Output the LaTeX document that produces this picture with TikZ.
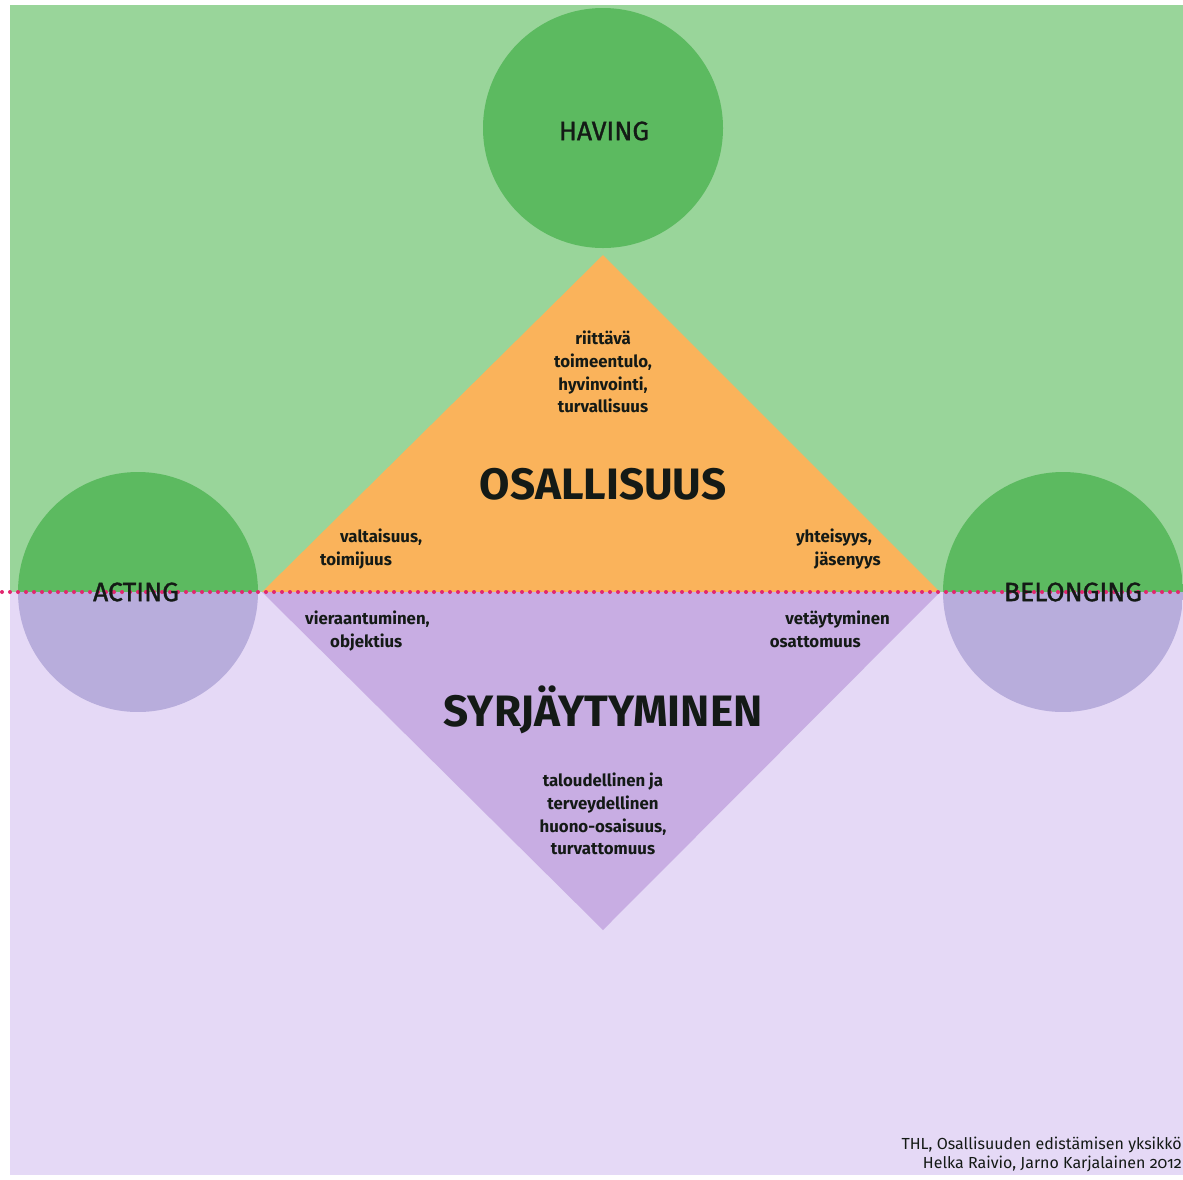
\documentclass[tikz,border=0pt]{standalone}
\usepackage{fontspec}
\setmainfont{Fira Sans}
\newfontfamily\lightfont{Fira Sans}[Numbers=OldStyle]
\newfontfamily\labfont{Fira Sans}[FakeBold=1.2]
\definecolor{greenbg}{HTML}{99D59A}
\definecolor{greencirc}{HTML}{5CBA60}
\definecolor{purplebg}{HTML}{E5D9F6}
\definecolor{purplecirc}{HTML}{B8ADDC}
\definecolor{purpletri}{HTML}{C8ADE3}
\definecolor{orangetri}{HTML}{FAB35B}
\definecolor{dotcol}{HTML}{E2276F}
\definecolor{ink}{HTML}{141A16}
\begin{document}
\begin{tikzpicture}[x=1pt,y=-1pt,
  halfcirc/.style={circle, minimum size=240pt, inner sep=0pt,
    path picture={
      \fill[greencirc] (path picture bounding box.north west) rectangle (path picture bounding box.east);
      \fill[purplecirc] (path picture bounding box.west) rectangle (path picture bounding box.south east);
    }},
  fullcirc/.style={circle, minimum size=240pt, inner sep=0pt, fill=greencirc},
  dimlabel/.style={text=ink, font=\fontsize{26.5}{30}\labfont\selectfont},
  bigtitle/.style={text=ink, font=\fontsize{44}{48}\bfseries\selectfont},
  smalltxt/.style={text=ink, font=\fontsize{16.8}{22.8}\bfseries\selectfont, inner sep=0pt},
  foot/.style={text=ink, font=\fontsize{16}{18.5}\lightfont\selectfont, inner sep=0pt, align=right, anchor=east},
  dotline/.style={draw=dotcol, line width=4pt, line cap=round, dash pattern=on 0pt off 8pt}
]
\useasboundingbox (0,0) rectangle (1183,1179);
\fill[white] (0,0) rectangle (1183,1179);
\fill[greenbg] (10,5) rectangle (1183,592);
\fill[purplebg] (10,592) rectangle (1183,1175);
% triangles
\fill[orangetri] (603,255) -- (940,592) -- (262,592) -- cycle;
\fill[purpletri] (262,592) -- (940,592) -- (603,930) -- cycle;
% circles
\node[fullcirc] (havingc) at (603,128) {};
\node[halfcirc] (actingc) at (138,592) {};
\node[halfcirc] (belongc) at (1063,592) {};
% dotted line
\coordinate (dl) at (2,592);
\coordinate (dr) at (1183,592);
\draw[dotline] (dl) -- (dr);
% labels
\node[dimlabel] (having) at (604,131) {HAVING};
\node[dimlabel] (acting) at (136,592) {ACTING};
\node[dimlabel] (belonging) at (1073,592) {BELONGING};
\node[bigtitle] (osall) at (603,484) {OSALLISUUS};
\node[bigtitle] (syrj) at (603,710) {SYRJÄYTYMINEN};
\node[smalltxt, align=center] (having1) at (603,372) {riittävä\\toimeentulo,\\hyvinvointi,\\turvallisuus};
\node[smalltxt, align=left, anchor=north west] (val) at (320,529) {\hspace*{20pt}valtaisuus,\\toimijuus};
\node[smalltxt, align=right, anchor=north east] (yht) at (881,529) {yhteisyys,\hspace*{9pt}\\jäsenyys};
\node[smalltxt, align=left, anchor=north west] (vier) at (305,611) {vieraantuminen,\\\hspace*{25pt}objektius};
\node[smalltxt, align=right, anchor=north east] (vet) at (890,611) {vetäytyminen\\osattomuus\hspace*{29pt}};
\node[smalltxt, align=center] (tal) at (603,814) {taloudellinen ja\\terveydellinen\\huono-osaisuus,\\turvattomuus};
\node[foot] (foot1) at (1182,1145) {THL, Osallisuuden edistämisen yksikkö};
\node[foot] (foot2) at (1182,1164) {Helka Raivio, Jarno Karjalainen 2012};
\end{tikzpicture}
\end{document}
